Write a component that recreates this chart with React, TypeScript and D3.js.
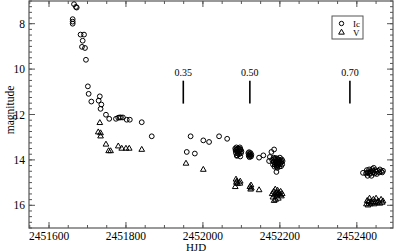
import React from "react";
import * as d3 from "d3";

const width = 397;
const height = 251;
const margin = { top: 1, right: 4, bottom: 23, left: 29 };

// Ic band (open circles)
const icData: [number, number][] = [
  [2451665, 7.14], [2451670, 7.26], [2451672, 7.29],
  [2451661.5, 7.8], [2451661.5, 7.91], [2451661.5, 8.0],
  [2451682, 8.48], [2451691, 8.48], [2451687.5, 8.75],
  [2451685.7, 9.02], [2451693.5, 9.07], [2451696, 9.59],
  [2451701, 10.76], [2451703, 11.09], [2451710, 11.43],
  [2451729, 11.39], [2451732, 11.2], [2451736, 11.56], [2451734, 11.75],
  [2451748, 12.01], [2451756.5, 12.19], [2451774, 12.19], [2451780, 12.14],
  [2451784, 12.13], [2451787, 12.13], [2451792, 12.13], [2451802, 12.23],
  [2451810, 12.23], [2451841, 12.34], [2451867, 12.96],
  [2451958, 13.65], [2451968, 12.96], [2451979, 13.72],
  [2452001, 13.14], [2452016, 13.21], [2452042, 12.96], [2452063, 13.07],
  // cluster ~2452090
  [2452084, 13.5], [2452085, 13.6], [2452086, 13.7], [2452087, 13.45],
  [2452088, 13.55], [2452089, 13.8], [2452090, 13.65], [2452092, 13.5],
  [2452094, 13.75], [2452095, 13.6], [2452096, 13.45], [2452097, 13.85],
  [2452098, 13.55], [2452099, 13.7], [2452100, 13.62], [2452086, 13.55],
  [2452091, 13.72], [2452093, 13.6], [2452088, 13.82], [2452097, 13.52],
  // cluster ~2452122
  [2452118, 13.7], [2452119, 13.82], [2452120, 13.66], [2452121, 13.88],
  [2452122, 13.75], [2452124, 13.7], [2452125, 13.85], [2452126, 13.78],
  [2452120, 13.76], [2452123, 13.82],
  [2452146, 13.9], [2452157, 13.8], [2452172, 14.05], [2452174, 13.87],
  [2452178, 13.65], [2452185, 13.54], [2452191, 14.53],
  // cluster ~2452195
  [2452180, 14.0], [2452182, 14.2], [2452184, 13.9], [2452185, 14.1],
  [2452186, 14.3], [2452188, 14.0], [2452189, 14.15], [2452190, 13.92],
  [2452191, 14.25], [2452192, 14.05], [2452193, 14.35], [2452194, 13.95],
  [2452195, 14.12], [2452196, 14.22], [2452197, 14.0], [2452198, 14.3],
  [2452199, 14.08], [2452200, 13.9], [2452201, 14.18], [2452202, 14.02],
  [2452203, 14.28], [2452204, 14.1], [2452205, 13.98], [2452206, 14.2],
  [2452207, 14.05], [2452183, 14.08], [2452187, 14.2], [2452190, 14.1],
  [2452194, 14.18], [2452198, 14.12], [2452186, 13.95], [2452192, 14.3],
  // cluster ~2452445
  [2452416, 14.57],
  [2452424, 14.6], [2452426, 14.45], [2452428, 14.7], [2452430, 14.55],
  [2452432, 14.42], [2452434, 14.62], [2452436, 14.5], [2452438, 14.7],
  [2452440, 14.4], [2452442, 14.55], [2452444, 14.35], [2452446, 14.6],
  [2452448, 14.45], [2452450, 14.52], [2452452, 14.62], [2452455, 14.48],
  [2452458, 14.55], [2452460, 14.42], [2452463, 14.5], [2452466, 14.55],
  [2452468, 14.48], [2452427, 14.55], [2452435, 14.58], [2452441, 14.48],
];

// V band (open triangles)
const vData: [number, number][] = [
  [2451732, 12.37], [2451728, 12.78], [2451734, 12.82], [2451734, 12.96],
  [2451748, 13.32], [2451755, 13.61], [2451760, 13.61], [2451780, 13.4],
  [2451789, 13.5], [2451800, 13.5], [2451808.5, 13.5], [2451841, 13.55],
  [2451956, 14.16], [2452001, 14.43],
  [2452084, 15.19], [2452086, 14.86], [2452087, 15.0], [2452088, 14.95],
  [2452090, 15.05], [2452096, 15.04], [2452097, 14.95],
  [2452122, 15.19], [2452124, 15.3], [2452125, 15.12], [2452126, 15.25],
  [2452146, 15.33],
  [2452180, 15.5], [2452182, 15.65], [2452184, 15.4], [2452186, 15.55],
  [2452188, 15.3], [2452189, 15.75], [2452190, 15.45], [2452192, 15.6],
  [2452194, 15.35], [2452195, 15.5], [2452196, 15.7], [2452198, 15.45],
  [2452200, 15.55], [2452202, 15.4], [2452204, 15.6], [2452206, 15.5],
  [2452185, 15.8],
  [2452425, 15.95], [2452427, 15.8], [2452429, 16.0], [2452431, 15.85],
  [2452433, 15.7], [2452435, 15.95], [2452437, 15.85], [2452440, 15.9],
  [2452443, 15.75], [2452445, 15.95], [2452448, 15.85], [2452450, 15.7],
  [2452453, 15.9], [2452456, 15.82], [2452460, 15.92], [2452463, 15.75],
  [2452466, 15.88], [2452468, 15.82],
];

// phase markers
const phaseHJD = [2451949, 2452122, 2452382];
const phaseLabels = ["0.35", "0.50", "0.70"];
const phaseMag: [number, number] = [10.51, 11.52];

const xTicks = [2451600, 2451800, 2452000, 2452200, 2452400];
const yTicks = [8, 10, 12, 14, 16];

const font = "'Liberation Serif', 'Times New Roman', serif";

const App = () => {
  const x = d3
    .scaleLinear()
    .domain([2451548, 2452494])
    .range([margin.left, width - margin.right]);
  const y = d3
    .scaleLinear()
    .domain([7, 17])
    .range([margin.top, height - margin.bottom]);

  const [x0, x1] = x.range();
  const [y0, y1] = y.range();
  const xMinor = d3.range(2451550, 2452494, 50);
  const yMinor = d3.range(7, 17.01, 0.25);
  const tri = d3.symbol(d3.symbolTriangle, 14)();

  return (
    <svg
      width={width}
      height={height}
      style={{ position: "absolute", left: 0, top: 0, background: "#fff" }}
      fontFamily={font}
    >
      {/* frame */}
      <rect x={x0} y={y0} width={x1 - x0} height={y1 - y0} fill="none" stroke="#555" strokeWidth={1.2} />

      {/* x ticks */}
      {xMinor.map((t) => (
        <g key={"xm" + t}>
          <line x1={x(t)} x2={x(t)} y1={y1} y2={y1 - 3} stroke="#555" />
          <line x1={x(t)} x2={x(t)} y1={y0} y2={y0 + 3} stroke="#555" />
        </g>
      ))}
      {xTicks.map((t) => (
        <g key={"x" + t}>
          <line x1={x(t)} x2={x(t)} y1={y1} y2={y1 - 6} stroke="#555" />
          <line x1={x(t)} x2={x(t)} y1={y0} y2={y0 + 6} stroke="#555" />
          <text x={x(t)} y={y1 + 11.5} textAnchor="middle" fontSize={11.5}>
            {t}
          </text>
        </g>
      ))}

      {/* y ticks */}
      {yMinor.map((t) => (
        <g key={"ym" + t}>
          <line x1={x0} x2={x0 + 3} y1={y(t)} y2={y(t)} stroke="#555" />
          <line x1={x1} x2={x1 - 3} y1={y(t)} y2={y(t)} stroke="#555" />
        </g>
      ))}
      {yTicks.map((t) => (
        <g key={"y" + t}>
          <line x1={x0} x2={x0 + 6} y1={y(t)} y2={y(t)} stroke="#555" />
          <line x1={x1} x2={x1 - 6} y1={y(t)} y2={y(t)} stroke="#555" />
          <text x={x0 - 4} y={y(t)} dy="0.35em" textAnchor="end" fontSize={11.5}>
            {t}
          </text>
        </g>
      ))}

      <text x={196} y={250.5} textAnchor="middle" fontSize={11}>
        HJD
      </text>
      <text transform="translate(14,110) rotate(-90)" textAnchor="middle" fontSize={11.5}>
        magnitude
      </text>

      {/* phase markers */}
      {phaseHJD.map((h, i) => (
        <g key={"p" + i}>
          <line x1={x(h)} x2={x(h)} y1={y(phaseMag[0])} y2={y(phaseMag[1])} stroke="#000" strokeWidth={1.6} />
          <text x={x(h)} y={y(phaseMag[0]) - 5} textAnchor="middle" fontSize={10}>
            {phaseLabels[i]}
          </text>
        </g>
      ))}

      {/* data */}
      {icData.map((d, i) => (
        <circle key={"c" + i} cx={x(d[0])} cy={y(d[1])} r={2.4} fill="none" stroke="#000" strokeWidth={1} />
      ))}
      {vData.map((d, i) => (
        <path key={"t" + i} d={tri as string} transform={`translate(${x(d[0])},${y(d[1])})`} fill="none" stroke="#000" strokeWidth={1} />
      ))}

      {/* legend */}
      <rect x={332} y={16} width={31} height={23} fill="#fff" stroke="#555" />
      <circle cx={341.5} cy={23.5} r={2.2} fill="none" stroke="#000" />
      <text x={353} y={26.5} fontSize={9}>Ic</text>
      <path d={tri as string} transform="translate(341.5,32.5)" fill="none" stroke="#000" />
      <text x={353} y={35.5} fontSize={9}>V</text>
    </svg>
  );
};

export default App;
